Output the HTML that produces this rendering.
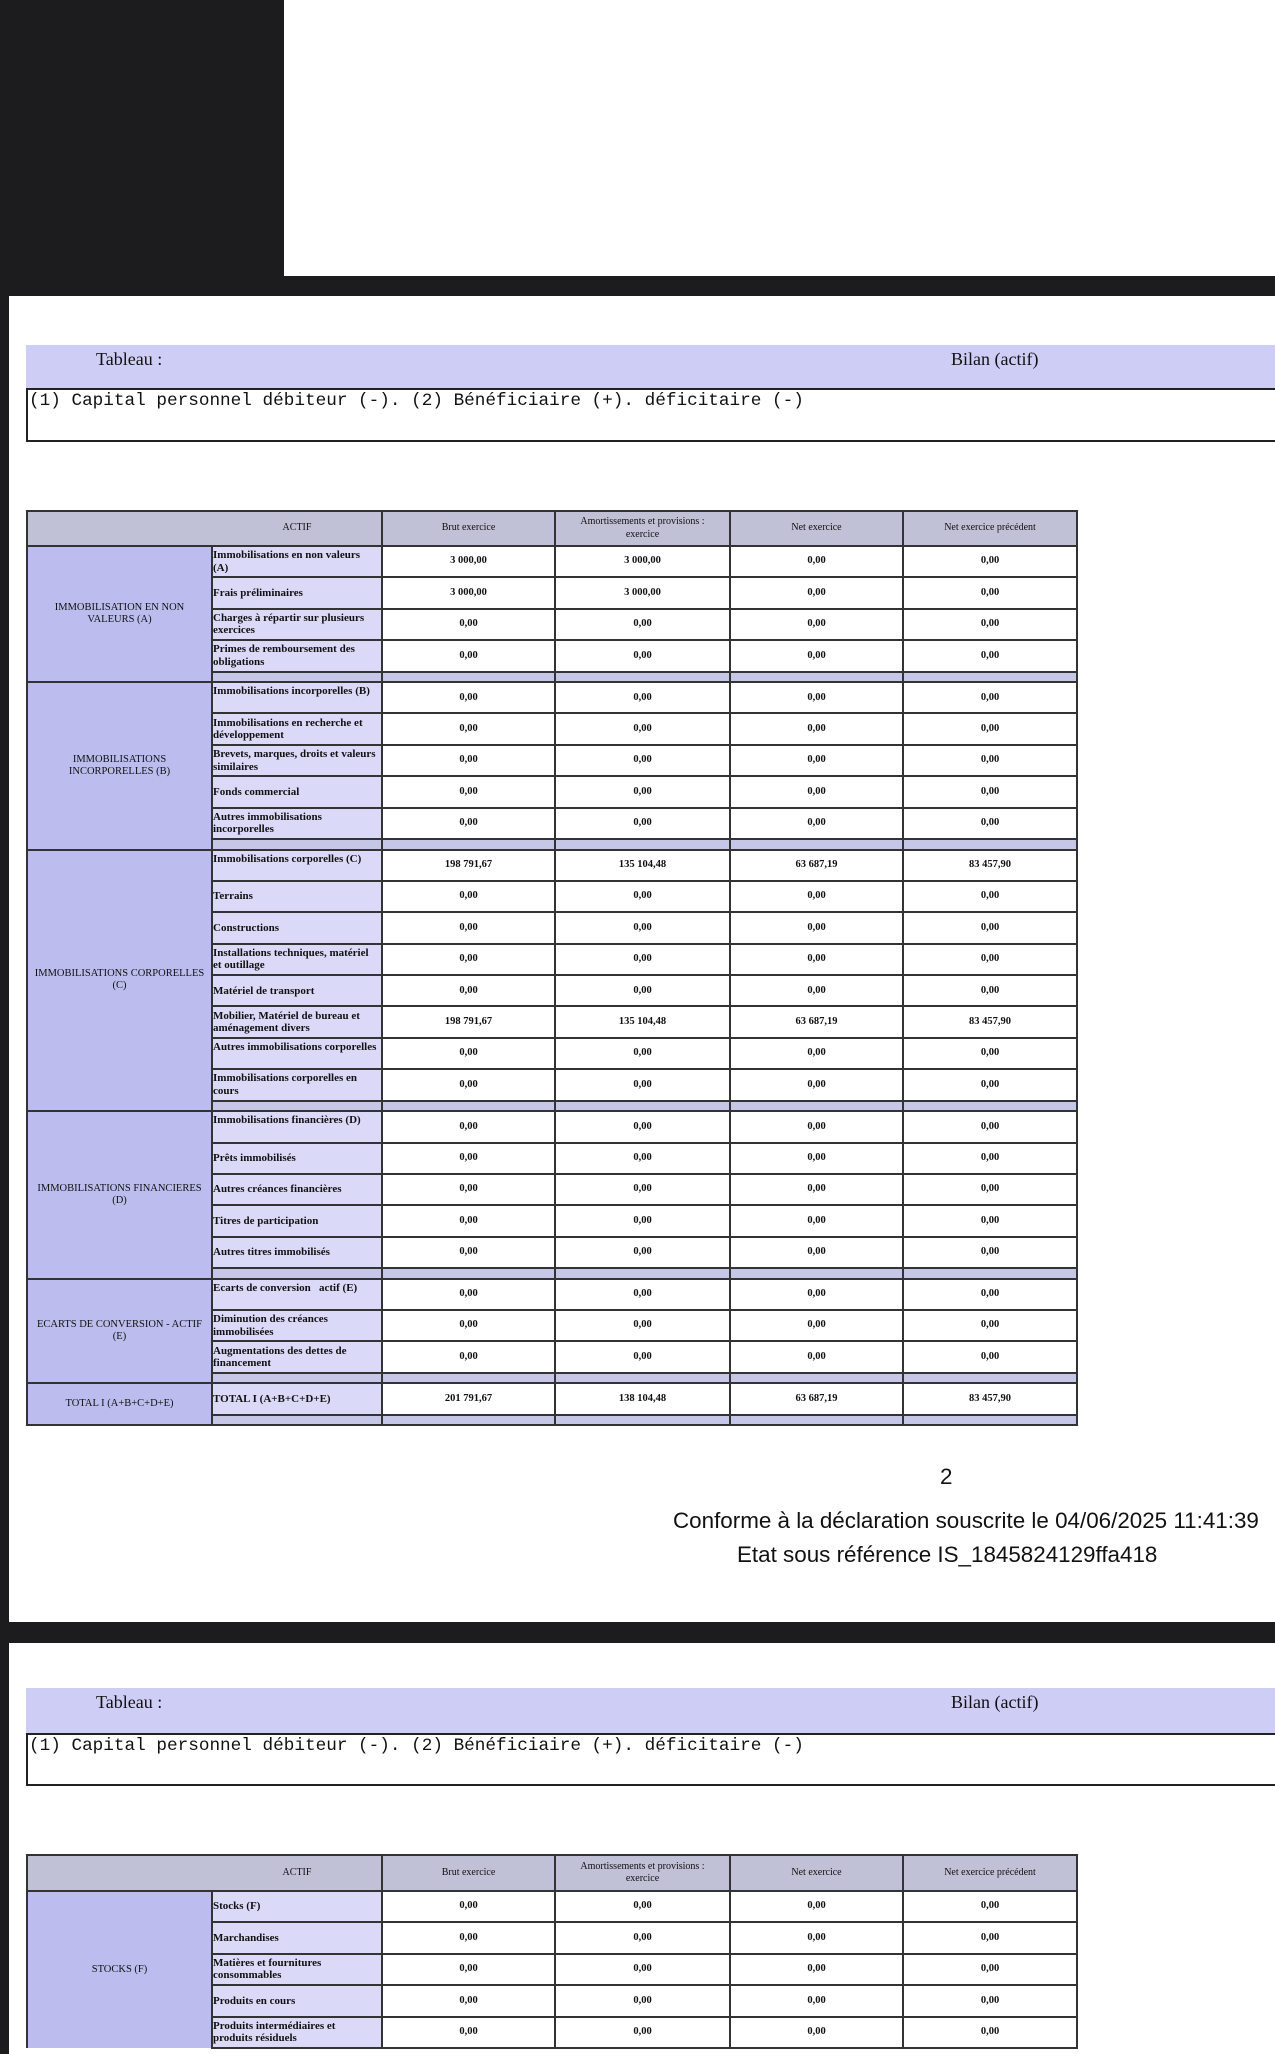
<!DOCTYPE html>
<html><head><meta charset="utf-8"><style>
*{margin:0;padding:0;box-sizing:border-box}
html{width:1275px;height:2054px;overflow:hidden}
body{width:1275px;height:2054px;background:#1c1c1e;position:relative;overflow:hidden;font-family:"Liberation Serif",serif}
.wbox{position:absolute;left:284px;top:0;width:991px;height:276px;background:#fff}
.page{position:absolute;left:9px;width:1266px;background:#fff}
.band{position:absolute;left:26px;width:1249px;background:#cdcdf6;font-size:18px;color:#111}
.band .l{position:absolute;left:70px;top:4px}
.band .r{position:absolute;left:925px;top:4px}
.mono{position:absolute;left:26px;width:1249px;border:2px solid #222;border-right:none;font-family:"Liberation Mono",monospace;font-size:17.7px;padding:1px 0 0 1px;color:#111}
table{position:absolute;left:26px;border-collapse:collapse;table-layout:fixed;width:1050px}
td{border:2px solid #333;font-size:10.5px;text-align:center;vertical-align:middle;color:#111;line-height:12.5px}
td.h{background:#c0c0d6;font-weight:normal;font-size:10px}
td.ha{padding-left:185px}
td.g{background:#bcbcee;font-size:10.5px;line-height:12px}
td.lb{background:#dadaf8;font-weight:bold;text-align:left;padding-left:0;font-size:11px;padding-right:4px}
td.lt{vertical-align:top;padding-top:2px}
td.v{background:#fff;font-weight:bold}
tr.r td{height:31.4px}
tr.s td{height:10.5px;background:#c6c6e6}
.foot{position:absolute;font-family:"Liberation Sans",sans-serif;color:#111;font-size:22.4px;white-space:nowrap}
</style></head><body>
<div class="wbox"></div>
<div class="page" style="top:296px;height:1326px"></div>
<div class="page" style="top:1643px;height:411px"></div>

<div class="band" style="top:345px;height:43px"><span class="l">Tableau :</span><span class="r">Bilan (actif)</span></div>
<div class="mono" style="top:388px;height:54px">(1) Capital personnel débiteur (-). (2) Bénéficiaire (+). déficitaire (-)</div>

<table style="top:510px">
<colgroup><col style="width:185px"><col style="width:170px"><col style="width:173px"><col style="width:175px"><col style="width:173px"><col style="width:174px"></colgroup>
<tr><td class="h ha" colspan="2" style="height:35px">ACTIF</td><td class="h">Brut exercice</td><td class="h">Amortissements et provisions :<br>exercice</td><td class="h">Net exercice</td><td class="h">Net exercice précédent</td></tr>
<tr class="r"><td class="g" rowspan="5">IMMOBILISATION EN NON<br>VALEURS (A)</td><td class="lb">Immobilisations en non valeurs (A)</td><td class="v">3 000,00</td><td class="v">3 000,00</td><td class="v">0,00</td><td class="v">0,00</td></tr>
<tr class="r"><td class="lb">Frais préliminaires</td><td class="v">3 000,00</td><td class="v">3 000,00</td><td class="v">0,00</td><td class="v">0,00</td></tr>
<tr class="r"><td class="lb">Charges à répartir sur plusieurs exercices</td><td class="v">0,00</td><td class="v">0,00</td><td class="v">0,00</td><td class="v">0,00</td></tr>
<tr class="r"><td class="lb">Primes de remboursement des obligations</td><td class="v">0,00</td><td class="v">0,00</td><td class="v">0,00</td><td class="v">0,00</td></tr>
<tr class="s"><td></td><td></td><td></td><td></td><td></td></tr>

<tr class="r"><td class="g" rowspan="6">IMMOBILISATIONS<br>INCORPORELLES (B)</td><td class="lb lt">Immobilisations incorporelles (B)</td><td class="v">0,00</td><td class="v">0,00</td><td class="v">0,00</td><td class="v">0,00</td></tr>
<tr class="r"><td class="lb">Immobilisations en recherche et développement</td><td class="v">0,00</td><td class="v">0,00</td><td class="v">0,00</td><td class="v">0,00</td></tr>
<tr class="r"><td class="lb">Brevets, marques, droits et valeurs similaires</td><td class="v">0,00</td><td class="v">0,00</td><td class="v">0,00</td><td class="v">0,00</td></tr>
<tr class="r"><td class="lb">Fonds commercial</td><td class="v">0,00</td><td class="v">0,00</td><td class="v">0,00</td><td class="v">0,00</td></tr>
<tr class="r"><td class="lb">Autres immobilisations incorporelles</td><td class="v">0,00</td><td class="v">0,00</td><td class="v">0,00</td><td class="v">0,00</td></tr>
<tr class="s"><td></td><td></td><td></td><td></td><td></td></tr>

<tr class="r"><td class="g" rowspan="9">IMMOBILISATIONS CORPORELLES<br>(C)</td><td class="lb lt">Immobilisations corporelles (C)</td><td class="v">198 791,67</td><td class="v">135 104,48</td><td class="v">63 687,19</td><td class="v">83 457,90</td></tr>
<tr class="r"><td class="lb">Terrains</td><td class="v">0,00</td><td class="v">0,00</td><td class="v">0,00</td><td class="v">0,00</td></tr>
<tr class="r"><td class="lb">Constructions</td><td class="v">0,00</td><td class="v">0,00</td><td class="v">0,00</td><td class="v">0,00</td></tr>
<tr class="r"><td class="lb">Installations techniques, matériel et outillage</td><td class="v">0,00</td><td class="v">0,00</td><td class="v">0,00</td><td class="v">0,00</td></tr>
<tr class="r"><td class="lb">Matériel de transport</td><td class="v">0,00</td><td class="v">0,00</td><td class="v">0,00</td><td class="v">0,00</td></tr>
<tr class="r"><td class="lb">Mobilier, Matériel de bureau et aménagement divers</td><td class="v">198 791,67</td><td class="v">135 104,48</td><td class="v">63 687,19</td><td class="v">83 457,90</td></tr>
<tr class="r"><td class="lb lt">Autres immobilisations corporelles</td><td class="v">0,00</td><td class="v">0,00</td><td class="v">0,00</td><td class="v">0,00</td></tr>
<tr class="r"><td class="lb">Immobilisations corporelles en cours</td><td class="v">0,00</td><td class="v">0,00</td><td class="v">0,00</td><td class="v">0,00</td></tr>
<tr class="s"><td></td><td></td><td></td><td></td><td></td></tr>

<tr class="r"><td class="g" rowspan="6">IMMOBILISATIONS FINANCIERES<br>(D)</td><td class="lb lt">Immobilisations financières (D)</td><td class="v">0,00</td><td class="v">0,00</td><td class="v">0,00</td><td class="v">0,00</td></tr>
<tr class="r"><td class="lb">Prêts immobilisés</td><td class="v">0,00</td><td class="v">0,00</td><td class="v">0,00</td><td class="v">0,00</td></tr>
<tr class="r"><td class="lb">Autres créances financières</td><td class="v">0,00</td><td class="v">0,00</td><td class="v">0,00</td><td class="v">0,00</td></tr>
<tr class="r"><td class="lb">Titres de participation</td><td class="v">0,00</td><td class="v">0,00</td><td class="v">0,00</td><td class="v">0,00</td></tr>
<tr class="r"><td class="lb">Autres titres immobilisés</td><td class="v">0,00</td><td class="v">0,00</td><td class="v">0,00</td><td class="v">0,00</td></tr>
<tr class="s"><td></td><td></td><td></td><td></td><td></td></tr>

<tr class="r"><td class="g" rowspan="4">ECARTS DE CONVERSION - ACTIF<br>(E)</td><td class="lb lt">Ecarts de conversion &nbsp; actif (E)</td><td class="v">0,00</td><td class="v">0,00</td><td class="v">0,00</td><td class="v">0,00</td></tr>
<tr class="r"><td class="lb">Diminution des créances immobilisées</td><td class="v">0,00</td><td class="v">0,00</td><td class="v">0,00</td><td class="v">0,00</td></tr>
<tr class="r"><td class="lb">Augmentations des dettes de financement</td><td class="v">0,00</td><td class="v">0,00</td><td class="v">0,00</td><td class="v">0,00</td></tr>
<tr class="s"><td></td><td></td><td></td><td></td><td></td></tr>

<tr class="r"><td class="g" rowspan="2">TOTAL I (A+B+C+D+E)</td><td class="lb">TOTAL I (A+B+C+D+E)</td><td class="v">201 791,67</td><td class="v">138 104,48</td><td class="v">63 687,19</td><td class="v">83 457,90</td></tr>
<tr class="s"><td></td><td></td><td></td><td></td><td></td></tr>
</table>

<div class="foot" style="left:940px;top:1464px">2</div>
<div class="foot" style="left:673px;top:1508px">Conforme à la déclaration souscrite le 04/06/2025 11:41:39</div>
<div class="foot" style="left:737px;top:1542px">Etat sous référence IS_1845824129ffa418</div>

<div class="band" style="top:1688px;height:45px"><span class="l">Tableau :</span><span class="r">Bilan (actif)</span></div>
<div class="mono" style="top:1733px;height:53px">(1) Capital personnel débiteur (-). (2) Bénéficiaire (+). déficitaire (-)</div>

<table style="top:1854px">
<colgroup><col style="width:185px"><col style="width:170px"><col style="width:173px"><col style="width:175px"><col style="width:173px"><col style="width:174px"></colgroup>
<tr><td class="h ha" colspan="2" style="height:36px">ACTIF</td><td class="h">Brut exercice</td><td class="h">Amortissements et provisions :<br>exercice</td><td class="h">Net exercice</td><td class="h">Net exercice précédent</td></tr>
<tr class="r"><td class="g" rowspan="5" style="border-bottom:none">STOCKS (F)</td><td class="lb">Stocks (F)</td><td class="v">0,00</td><td class="v">0,00</td><td class="v">0,00</td><td class="v">0,00</td></tr>
<tr class="r"><td class="lb">Marchandises</td><td class="v">0,00</td><td class="v">0,00</td><td class="v">0,00</td><td class="v">0,00</td></tr>
<tr class="r"><td class="lb">Matières et fournitures consommables</td><td class="v">0,00</td><td class="v">0,00</td><td class="v">0,00</td><td class="v">0,00</td></tr>
<tr class="r"><td class="lb">Produits en cours</td><td class="v">0,00</td><td class="v">0,00</td><td class="v">0,00</td><td class="v">0,00</td></tr>
<tr class="r"><td class="lb">Produits intermédiaires et produits résiduels</td><td class="v">0,00</td><td class="v">0,00</td><td class="v">0,00</td><td class="v">0,00</td></tr>
</table>
</body></html>
